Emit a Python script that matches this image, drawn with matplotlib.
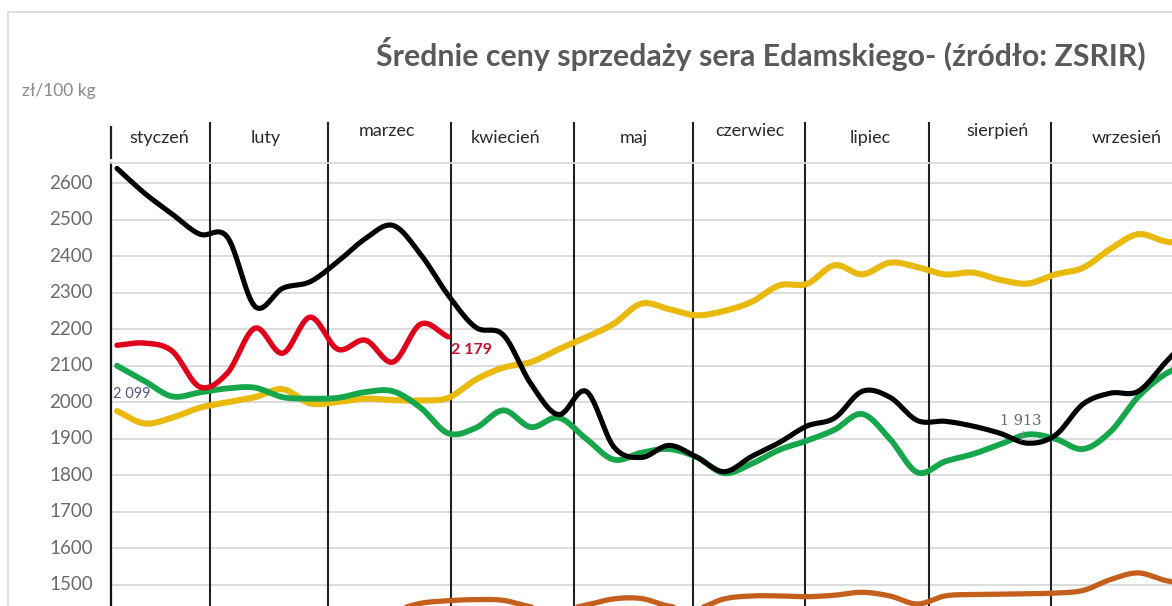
import numpy as np
import matplotlib
matplotlib.use("Agg")
import matplotlib.pyplot as plt
from matplotlib.patches import Rectangle
from matplotlib.transforms import ScaledTranslation

# ---------------- data ----------------
weeks = np.arange(1, 41)
months = ["styczeń", "luty", "marzec", "kwiecień", "maj", "czerwiec",
          "lipiec", "sierpień", "wrzesień"]
month_bounds = [4.37, 8.64, 13.10, 17.56, 21.87, 25.93, 30.42, 34.84]
month_centers = [2.52, 6.40, 10.78, 15.09, 19.73, 23.93, 28.28, 32.92, 37.59]

black = [2640, 2572, 2515, 2460, 2452, 2262, 2312, 2330, 2385, 2448,
         2484, 2405, 2293, 2205, 2184, 2050, 1966, 2030, 1878, 1849,
         1882, 1850, 1810, 1852, 1890, 1935, 1957, 2030, 2014, 1950,
         1948, 1935, 1915, 1888, 1910, 1995, 2025, 2030, 2110, 2190]
yellow = [1976, 1942, 1958, 1985, 2000, 2014, 2036, 1997, 2001, 2010,
          2006, 2005, 2012, 2062, 2095, 2110, 2145, 2178, 2215, 2270,
          2255, 2238, 2250, 2275, 2320, 2324, 2375, 2350, 2382, 2370,
          2350, 2355, 2335, 2325, 2350, 2368, 2420, 2460, 2440, 2435]
green = [2100, 2058, 2016, 2027, 2038, 2040, 2014, 2010, 2012, 2028,
         2030, 1985, 1915, 1930, 1978, 1932, 1958, 1900, 1843, 1862,
         1872, 1850, 1806, 1832, 1870, 1895, 1925, 1968, 1900, 1808,
         1838, 1858, 1885, 1912, 1900, 1872, 1920, 2015, 2078, 2110]
red = [2156, 2162, 2140, 2042, 2080, 2203, 2134, 2233, 2145, 2170,
       2110, 2214, 2179]
brown = [1415, 1410, 1405, 1410, 1415, 1420, 1415, 1420, 1425, 1425,
         1430, 1450, 1457, 1460, 1458, 1440, 1432, 1445, 1462, 1463,
         1442, 1435, 1462, 1470, 1470, 1468, 1472, 1480, 1470, 1448,
         1470, 1474, 1475, 1476, 1478, 1485, 1515, 1533, 1512, 1500]
yticks = [1500, 1600, 1700, 1800, 1900, 2000, 2100, 2200, 2300, 2400, 2500, 2600]


def smooth(x, y, n=12):
    """Catmull-Rom curve through the points (like Excel's smoothed line)."""
    x = np.asarray(x, float)
    y = np.asarray(y, float)
    P = np.column_stack([x, y])
    P = np.vstack([2 * P[0] - P[1], P, 2 * P[-1] - P[-2]])
    out = []
    t = np.linspace(0, 1, n, endpoint=False)[:, None]
    for i in range(1, len(P) - 2):
        p0, p1, p2, p3 = P[i - 1], P[i], P[i + 1], P[i + 2]
        seg = 0.5 * ((2 * p1) + (-p0 + p2) * t +
                     (2 * p0 - 5 * p1 + 4 * p2 - p3) * t ** 2 +
                     (-p0 + 3 * p1 - 3 * p2 + p3) * t ** 3)
        out.append(seg)
    out.append(P[-2][None, :])
    out = np.vstack(out)
    return out[:, 0], out[:, 1]


W, H = 1172, 606
FONT = ["Lato", "DejaVu Sans"]
fig = plt.figure(figsize=(W / 100, H / 100), dpi=100)
fig.patch.set_facecolor("white")

# outer chart frame
fig.patches.append(Rectangle((8 / W, -0.1), 1.2, (H - 12) / H + 0.1,
                             transform=fig.transFigure, fill=False,
                             edgecolor="#D9D9D9", linewidth=1.2))

ax = fig.add_axes([111 / W, 0, (W - 111) / W, (H - 163) / H])
ymin, ymax = 1442.5, 2654.8
ax.set_xlim(0.7826, 39.225)
ax.set_ylim(ymin, ymax)

for s in ["right", "bottom"]:
    ax.spines[s].set_visible(False)
ax.spines["top"].set_color("#D9D9D9")
ax.spines["top"].set_linewidth(1.3)
ax.spines["left"].set_color("#111111")
ax.spines["left"].set_linewidth(1.6)

ax.set_yticks(yticks)
ax.set_xticks([])
ax.tick_params(axis="y", length=0, labelleft=False)
ax.grid(axis="y", color="#D9D9D9", linewidth=1.3)
ax.set_axisbelow(True)

# y tick labels, right-aligned ~18 px left of the axis line
lab_tr = ax.get_yaxis_transform() + ScaledTranslation(-18 / 100, 0,
                                                      fig.dpi_scale_trans)
for v in yticks:
    ax.text(0, v, str(v), transform=lab_tr, ha="right", va="center",
            fontsize=13.5, color="#6a6a6a", family=FONT, clip_on=False)

# month separators and labels
sep_top = 2764
for b in month_bounds:
    ax.plot([b, b], [ymin - 50, sep_top], color="#222222", lw=1.5,
            clip_on=False, zorder=1.5)
ax.plot([0.7826, 0.7826], [2668, 2752], color="#222222", lw=1.6,
        clip_on=False)
raised = {"marzec", "czerwiec", "sierpień"}
for m, c in zip(months, month_centers):
    yy = 2742 if m in raised else 2722
    ax.text(c, yy, m, ha="center", va="center", fontsize=13,
            family=FONT, color="#2a2a2a", clip_on=False)

# series
series = [
    (brown, "#C4601C", 3.8),
    (yellow, "#E9B90C", 4.4),
    (green, "#16A64C", 4.2),
    (black, "#000000", 3.7),
]
for vals, col, lw in series:
    xs, ys = smooth(weeks[:len(vals)], vals)
    ax.plot(xs, ys, color=col, lw=lw, solid_capstyle="round",
            solid_joinstyle="round", zorder=3)
xs, ys = smooth(weeks[:len(red)], red)
ax.plot(xs, ys, color="#E1001B", lw=3.9, solid_capstyle="round", zorder=4)

# data labels
ax.text(0.85, 2022, "2 099", fontsize=10.5, color="#55577a",
        family=FONT, ha="left", va="center", zorder=2.5)
ax.text(13.1, 2142, "2 179", fontsize=11.5, color="#C8102E", weight="bold",
        family=FONT, ha="left", va="center", zorder=5)
ax.text(33.0, 1948, "1 913", fontsize=10.5, color="#666666",
        family=["DejaVu Serif"], ha="left", va="center", zorder=5)
ax.plot([33.85, 33.75], [1920, 1895], color="#888888", lw=0.8, zorder=5)

# title and unit label
title = fig.text(761 / W, 1 - 54 / H,
                 "Średnie ceny sprzedaży sera Edamskiego- (źródło: ZSRIR)",
                 ha="center", va="center", fontsize=19, color="#595959",
                 family=FONT, weight="bold")
fig.text(22 / W, 1 - 91 / H, "zł/100 kg", ha="left", va="center",
         fontsize=12.5, color="#8a8a8a", family=FONT)

# fit title width to the reference
fig.canvas.draw()
r = fig.canvas.get_renderer()
bb = title.get_window_extent(r)
title.set_fontsize(19 * 767 / bb.width)

fig.savefig("out.png", dpi=100, facecolor="white")
